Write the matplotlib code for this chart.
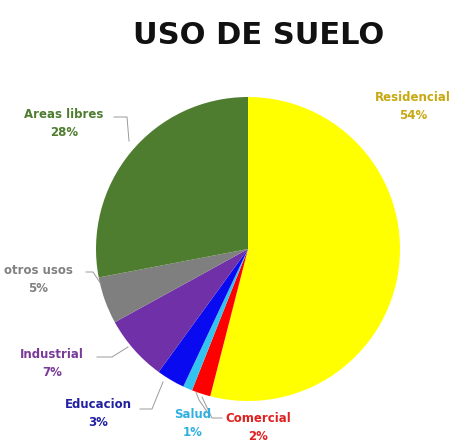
import numpy as np
import matplotlib.pyplot as plt
from matplotlib.lines import Line2D

categories = ['Residencial', 'Comercial', 'Salud', 'Educacion', 'Industrial', 'otros usos', 'Areas libres']
shares = [54, 2, 1, 3, 7, 5, 28]
pct_labels = ['54%', '2%', '1%', '3%', '7%', '5%', '28%']

wedge_colors = ['#FFFF00', '#FF0000', '#33C3F0', '#0A0AF0', '#7030A8', '#7F7F7F', '#4E7D2F']
text_colors = ['#C8A810', '#E02020', '#30B0E0', '#2020A0', '#7A3A9A', '#808080', '#4E7D2F']

W, H = 471, 446
CX, CY, R = 248, 249, 152   # pie centre / radius in pixels


def px2data(px, py):
    return (px - CX) / R, (CY - py) / R


fig = plt.figure(figsize=(W / 100, H / 100), dpi=100)
ax = fig.add_axes([(CX - R) / W, (H - CY - R) / H, 2 * R / W, 2 * R / H])
ax.set_aspect('equal')
ax.axis('off')

wedges, _ = ax.pie(shares, colors=wedge_colors, startangle=90, counterclock=False,
                   radius=1, center=(0, 0), frame=False)
ax.set_xlim(-1, 1)
ax.set_ylim(-1, 1)

fig.text(259 / W, 1 - 36 / H, 'USO DE SUELO', ha='center', va='center',
         fontsize=22, fontweight='bold', family='DejaVu Sans', color='#111111')

# label placement (pixel positions of name line) and leader polyline
label_pos = {
    'Residencial': (413, 97, None),
    'Areas libres': (64, 114, [(114, 117), (127, 117), (129, 141)]),
    'otros usos': (38, 271, [(86, 272), (93, 272), (101, 284)]),
    'Industrial': (52, 354, [(97, 357), (112, 357), (128, 347)]),
    'Educacion': (98, 405, [(140, 409), (152, 409), (163, 382)]),
    'Salud': (193, 414, [(208, 413), (199, 400), (196, 392)]),
    'Comercial': (258, 419, [(222, 418), (212, 418), (202, 397)]),
}

for name, pct, tc in zip(categories, pct_labels, text_colors):
    lx, ly, leader = label_pos[name]
    x, y = px2data(lx, ly)
    ax.text(x, y, name, ha='center', va='center', fontsize=8.5, fontweight='bold',
            color=tc, family='DejaVu Sans')
    x2, y2 = px2data(lx, ly + 18)
    ax.text(x2, y2, pct, ha='center', va='center', fontsize=8.5, fontweight='bold',
            color=tc, family='DejaVu Sans')
    if leader:
        pts = np.array([px2data(px, py) for px, py in leader])
        ax.add_line(Line2D(pts[:, 0], pts[:, 1], color='#9a9a9a', lw=0.7, clip_on=False))

fig.savefig('out.png', dpi=100, facecolor='white')
